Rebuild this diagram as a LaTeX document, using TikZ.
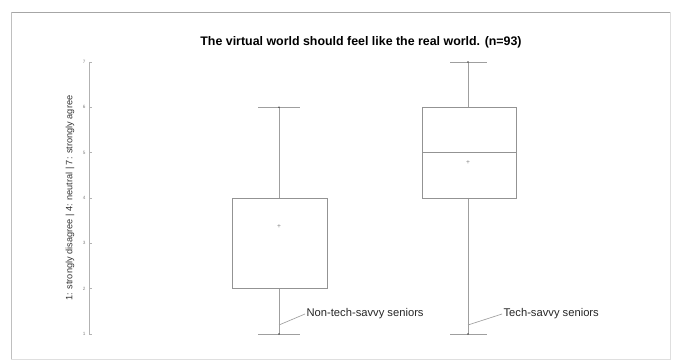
\documentclass[tikz,border=0pt]{standalone}
\usepackage{fontspec}
\setmainfont{Liberation Sans}
\begin{document}
\begin{tikzpicture}[
    x=0.75pt, y=-0.75pt,
    boxline/.style={draw=gray!85, line width=0.6pt},
    whisk/.style={draw=gray!75, line width=0.6pt},
    lbl/.style={font=\fontsize{8.4}{10}\selectfont, text=black!85, anchor=west, inner sep=1pt},
    tklbl/.style={font=\fontsize{3.5}{4}\selectfont, text=gray, anchor=east, inner sep=1pt},
    lead/.style={draw=gray!75, line width=0.5pt},
    avg/.style={text=gray, font=\fontsize{5}{5}\selectfont, inner sep=0pt}
]
    \useasboundingbox (0,0) rectangle (676,363);
    % Frame
    \draw[gray!25] (11,12) rectangle (670,359);
    \draw[gray!70] (11,12) -- (670,12);
    \draw[gray!50] (11,12) -- (11,359);

    % Title
    \node[font=\fontsize{9.3}{11}\selectfont\bfseries] (title) at (361,42) {The virtual world should feel like the real world. (n=93)};

    % Value axis
    \draw[gray!60] (89,62) -- (89,334);
    \foreach \v in {1,...,7} {
        \pgfmathsetmacro{\ypx}{334-(\v-1)*45.33}
        \draw[gray!60] (89,\ypx) -- (91.5,\ypx);
        \node[tklbl] (t\v) at (87,\ypx) {\v};
    }
    \node[rotate=90, font=\fontsize{6.9}{8}\selectfont, text=black!80] (ytitle) at (70,198) {1: strongly disagree | 4: neutral | 7: strongly agree};

    % Non-tech-savvy seniors
    \draw[whisk] (279,107.3) -- (279,198) (279,288.7) -- (279,334);
    \draw[whisk] (258,107.3) -- (300,107.3) (258,334) -- (300,334);
    \fill[black!70] (279,107.3) circle (0.9) (279,334) circle (0.9);
    \draw[boxline] (232,198) rectangle (327,288.7);
    \node[avg] (mean1) at (279,227) {+};

    % Tech-savvy seniors
    \draw[whisk] (468,62) -- (468,107.3) (468,198) -- (468,334);
    \draw[whisk] (450,62) -- (487,62) (450,334) -- (487,334);
    \fill[black!70] (468,62) circle (0.9) (468,334) circle (0.9);
    \draw[boxline] (422,107.3) rectangle (516,198);
    \draw[boxline] (422,152.7) -- (516,152.7);
    \node[avg] (mean2) at (468,163) {+};

    % Group labels
    \node[lbl] (nontech) at (305,314) {Non-tech-savvy seniors};
    \node[lbl] (tech) at (502,314) {Tech-savvy seniors};
    \coordinate (ntend) at (279,325);
    \coordinate (tend) at (468,325);
    \draw[lead] (ntend) -- (nontech.west);
    \draw[lead] (tend) -- (tech.west);
\end{tikzpicture}
\end{document}
